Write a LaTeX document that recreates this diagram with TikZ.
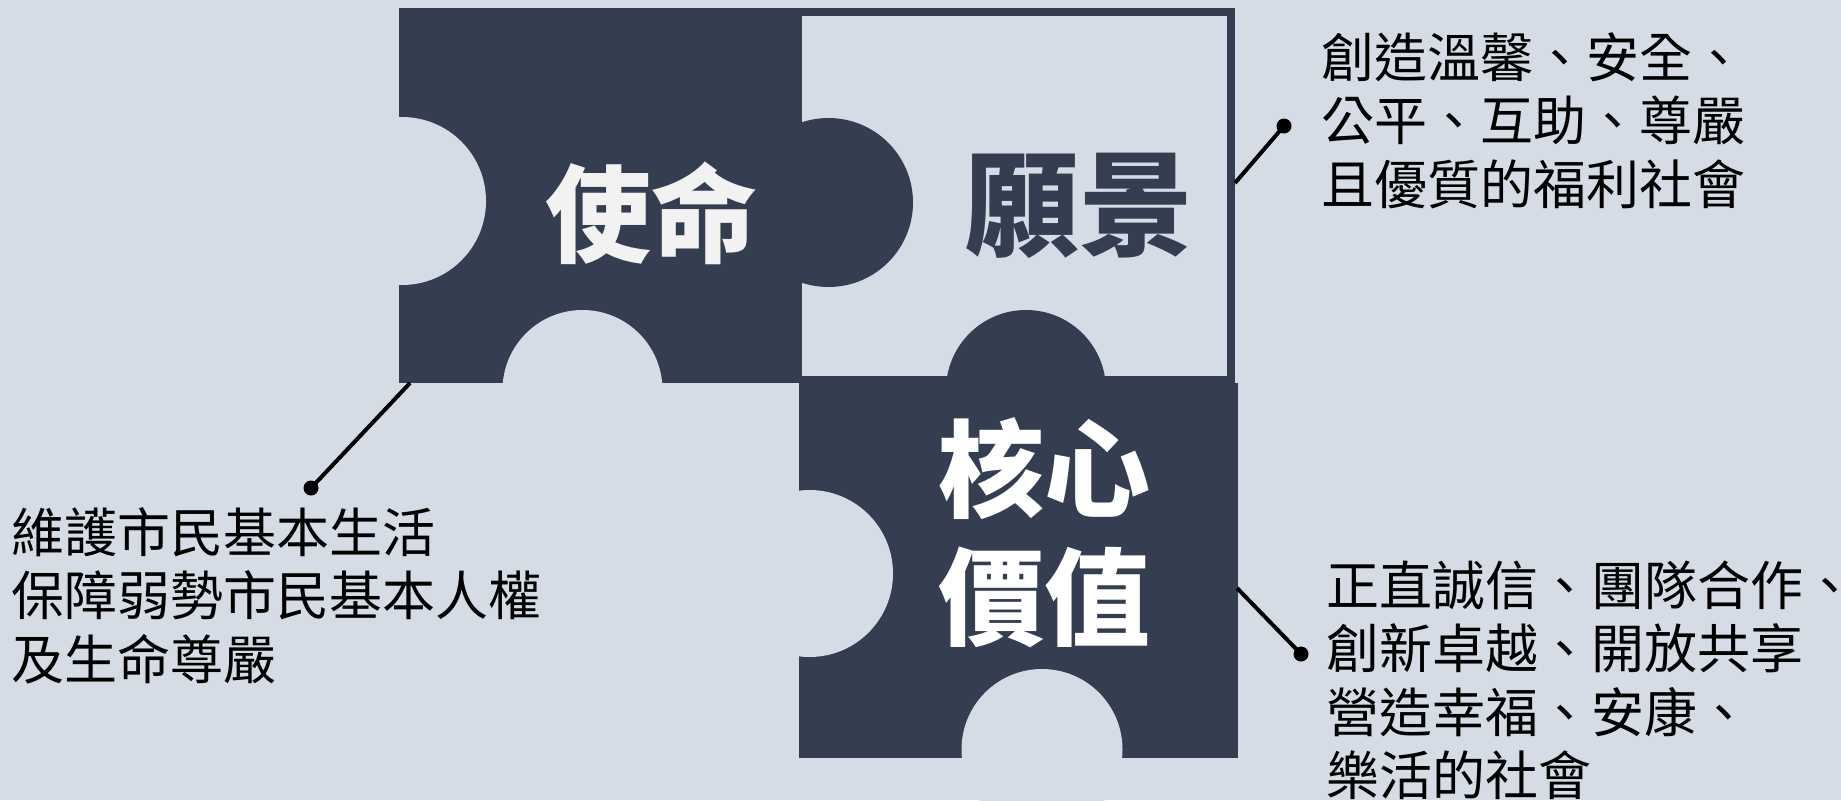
\documentclass[tikz,border=0pt]{standalone}
\usepackage{fontspec}
\newfontfamily\cjk{Noto Sans CJK TC}
\definecolor{bgcol}{HTML}{D5DCE6}
\definecolor{piece}{HTML}{343E50}
\definecolor{titlewhite}{HTML}{F2F2F2}
\tikzset{
  hole/.style={fill=bgcol},
  knob/.style={fill=piece},
  lead/.style={black, line width=2pt},
  body/.style={anchor=north west, inner sep=0pt, align=left, font=\cjk\fontsize{26.5pt}{31.75pt}\selectfont},
  title/.style={inner sep=0pt, align=center, font=\cjk\bfseries\fontsize{53pt}{64pt}\selectfont},
  bigtitle/.style={inner sep=0pt, font=\cjk\bfseries\fontsize{57pt}{64pt}\selectfont}
}
\begin{document}
\begin{tikzpicture}[x=0.5pt, y=-0.5pt]
    \useasboundingbox (0,0) rectangle (1841,800);
    \clip (0,0) rectangle (1841,800);
    \fill[bgcol] (0,0) rectangle (1841,800);

    % vision piece
    \fill[piece] (802,8) rectangle (1235,383);
    \fill[bgcol] (802,16) rectangle (1227,376);
    % mission piece
    \fill[piece] (399,8) rectangle (802,383);
    \fill[hole] (402,201) circle[radius=42pt];
    \fill[hole] (582.5,390) circle[radius=40pt];
    \fill[knob] (828.5,202.5) circle[radius=42.25pt];
    % values piece
    \fill[piece] (799,383) rectangle (1238,758);
    \fill[knob] (1026,390) circle[radius=40pt];
    \fill[hole] (809.5,573.5) circle[radius=41.75pt];
    \fill[hole] (1042,749.5) circle[radius=40.25pt];

    \node[title, titlewhite] (mission) at (651.5,213) {使命};
    \node[bigtitle, piece] (vision) at (1079,206) {願景};
    \node[title, white] (values) at (1044.5,533) {核心\\價值};

    \coordinate (m0) at (410,383); \coordinate (m1) at (311,488);
    \coordinate (v0) at (1235,183); \coordinate (v1) at (1284,126);
    \coordinate (c0) at (1237,588); \coordinate (c1) at (1301,654);
    \draw[lead] (m0)--(m1) (v0)--(v1) (c0)--(c1);
    \foreach \p in {m1,v1,c1} \fill (\p) circle (3.75pt);

    \node[body] (missiontext) at (11,507) {維護市民基本生活\\保障弱勢市民基本人權\\及生命尊嚴};
    \node[body] (visiontext) at (1321,32) {創造溫馨、安全、\\公平、互助、尊嚴\\且優質的福利社會};
    \node[body] (valuestext) at (1326,560) {正直誠信、團隊合作、\\創新卓越、開放共享\\營造幸福、安康、\\樂活的社會};
\end{tikzpicture}
\end{document}
